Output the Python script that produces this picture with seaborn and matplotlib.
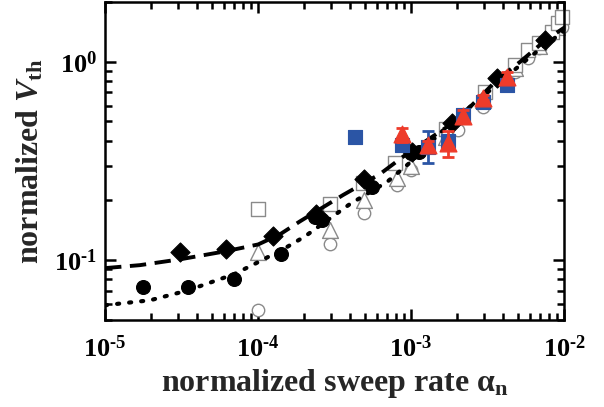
import numpy as np
import pandas as pd
import matplotlib
matplotlib.use("Agg")
import matplotlib.pyplot as plt
import matplotlib.ticker as mticker
import seaborn as sns

# filled black diamonds
dia_x = [3.09e-5, 6.18e-5, 1.25e-4, 2.39e-4, 4.93e-4, 1.02e-3, 1.85e-3, 3.65e-3, 7.52e-3]
dia_y = [0.110, 0.114, 0.132, 0.171, 0.256, 0.351, 0.492, 0.830, 1.29]

# filled black circles
dot_x = [1.77e-5, 3.49e-5, 6.97e-5, 1.41e-4, 2.35e-4, 2.6e-4, 5.56e-4, 1.0e-3, 1.12e-3]
dot_y = [0.073, 0.073, 0.080, 0.107, 0.165, 0.160, 0.234, 0.345, 0.350]

# open squares
osq_x = [1.0e-4, 2.96e-4, 4.86e-4, 7.8e-4, 1.7e-3, 3.05e-3, 4.78e-3, 5.8e-3, 6.8e-3, 8.3e-3, 9.1e-3, 9.7e-3]
osq_y = [0.181, 0.192, 0.245, 0.310, 0.460, 0.700, 0.966, 1.15, 1.25, 1.42, 1.57, 1.69]

# open triangles
otr_x = [1.0e-4, 2.96e-4, 4.9e-4, 8.1e-4, 1.0e-3, 1.7e-3, 2.96e-3, 4.8e-3, 6.8e-3, 9.0e-3]
otr_y = [0.110, 0.142, 0.201, 0.260, 0.300, 0.420, 0.640, 0.930, 1.20, 1.50]

# open circles
oci_x = [1.0e-4, 2.96e-4, 4.9e-4, 8.1e-4, 1.0e-3, 2.03e-3, 2.96e-3, 4.78e-3, 5.8e-3, 6.8e-3, 8.1e-3, 9.7e-3]
oci_y = [0.056, 0.121, 0.173, 0.240, 0.285, 0.453, 0.593, 0.890, 1.05, 1.18, 1.35, 1.50]

# blue squares with error bars
blu_x = [4.31e-4, 8.7e-4, 1.29e-3, 1.75e-3, 2.19e-3, 2.96e-3, 4.24e-3]
blu_y = [0.418, 0.380, 0.372, 0.400, 0.540, 0.630, 0.765]
blu_lo = [0.012, 0.02, 0.062, 0.02, 0.03, 0.02, 0.02]
blu_hi = [0.012, 0.02, 0.078, 0.02, 0.03, 0.02, 0.02]

# red triangles with error bars
red_x = [8.73e-4, 1.29e-3, 1.75e-3, 2.19e-3, 2.96e-3, 4.24e-3]
red_y = [0.430, 0.380, 0.390, 0.530, 0.660, 0.840]
red_lo = [0.035, 0.02, 0.06, 0.04, 0.02, 0.05]
red_hi = [0.035, 0.02, 0.06, 0.04, 0.02, 0.05]

# fit curves
dash_x = [1e-5, 1.69e-5, 3.09e-5, 6.18e-5, 1.0e-4, 1.39e-4, 1.88e-4, 3.59e-4, 6.27e-4,
          9.55e-4, 1.72e-3, 2.51e-3, 3.65e-3, 5.16e-3, 7.52e-3, 1.02e-2]
dash_y = [0.0912, 0.0944, 0.101, 0.111, 0.120, 0.135, 0.157, 0.213, 0.272,
          0.347, 0.470, 0.607, 0.811, 1.0, 1.28, 1.50]
dotl_x = [1e-5, 1.97e-5, 3.49e-5, 6.97e-5, 1.0e-4, 1.5e-4, 2.03e-4, 3.99e-4, 6.97e-4,
          1.03e-3, 1.55e-3, 2.43e-3, 3.82e-3, 6.0e-3, 1.02e-2]
dotl_y = [0.0593, 0.0628, 0.0705, 0.085, 0.0977, 0.115, 0.132, 0.192, 0.248,
          0.320, 0.438, 0.593, 0.792, 1.06, 1.45]

xticks = [1e-5, 1e-4, 1e-3, 1e-2]
xtick_labels = ["$\\mathbf{10^{\u20105}}$", "$\\mathbf{10^{\u20104}}$",
                "$\\mathbf{10^{\u20103}}$", "$\\mathbf{10^{\u20102}}$"]
yticks = [1e-1, 1e0]
ytick_labels = ["$\\mathbf{10^{\u20101}}$", "$\\mathbf{10^{0}}$"]

sns.set_style("ticks")
plt.rcParams["font.family"] = ["Liberation Serif", "DejaVu Serif"]
plt.rcParams["font.weight"] = "bold"
plt.rcParams["mathtext.fontset"] = "custom"
plt.rcParams["mathtext.rm"] = "Liberation Serif"
plt.rcParams["mathtext.it"] = "Liberation Serif:bold:italic"
plt.rcParams["mathtext.bf"] = "Liberation Serif:bold"

fig = plt.figure(figsize=(6.04, 4.07), dpi=100)
ax = fig.add_axes([0.174, 0.214, 0.76, 0.781])
ax.set_xscale("log")
ax.set_yscale("log")

gray = "#8a8a8a"
blue = "#2b55a5"
red = "#ee3b2a"

sns.lineplot(x=dash_x, y=dash_y, ax=ax, color="black", lw=2.8, sort=False,
             estimator=None, zorder=3)
ax.lines[-1].set_dashes([4.2, 2.2])
sns.lineplot(x=dotl_x, y=dotl_y, ax=ax, color="black", lw=3.0, sort=False,
             estimator=None, zorder=3)
ax.lines[-1].set_dashes([0.5, 2.4])
ax.lines[-1].set_dash_capstyle("round")

sns.scatterplot(x=oci_x, y=oci_y, ax=ax, marker="o", s=80, facecolor="white",
                edgecolor=gray, linewidth=1.0, zorder=2, clip_on=False)
sns.scatterplot(x=otr_x, y=otr_y, ax=ax, marker="^", s=130, facecolor="white",
                edgecolor=gray, linewidth=1.0, zorder=2, clip_on=False)
sns.scatterplot(x=osq_x, y=osq_y, ax=ax, marker="s", s=105, facecolor="white",
                edgecolor=gray, linewidth=1.0, zorder=2, clip_on=False)

sns.scatterplot(x=dot_x, y=dot_y, ax=ax, marker="o", s=100, color="black",
                edgecolor="black", zorder=4)
sns.scatterplot(x=dia_x, y=dia_y, ax=ax, marker="D", s=95, color="black",
                edgecolor="black", zorder=4)

ax.errorbar(blu_x, blu_y, yerr=[blu_lo, blu_hi], fmt="none", ecolor=blue,
            elinewidth=2, capsize=4, capthick=2, zorder=5)
sns.scatterplot(x=blu_x, y=blu_y, ax=ax, marker="s", s=105, color=blue,
                edgecolor=blue, zorder=5)
ax.errorbar(red_x, red_y, yerr=[red_lo, red_hi], fmt="none", ecolor=red,
            elinewidth=2, capsize=4, capthick=2, zorder=6)
sns.scatterplot(x=red_x, y=red_y, ax=ax, marker="^", s=145, color=red,
                edgecolor=red, zorder=6)

ax.set_xlim(1e-5, 1e-2)
ax.set_ylim(0.05, 2.0)
ax.xaxis.set_major_locator(mticker.FixedLocator(xticks))
ax.xaxis.set_major_formatter(mticker.FixedFormatter(xtick_labels))
ax.yaxis.set_major_locator(mticker.FixedLocator(yticks))
ax.yaxis.set_major_formatter(mticker.FixedFormatter(ytick_labels))
ax.xaxis.set_minor_locator(mticker.LogLocator(base=10, subs=np.arange(2, 10)))
ax.yaxis.set_minor_locator(mticker.LogLocator(base=10, subs=np.arange(2, 10)))
ax.xaxis.set_minor_formatter(mticker.NullFormatter())
ax.yaxis.set_minor_formatter(mticker.NullFormatter())

for side in ax.spines.values():
    side.set_linewidth(1.8)
    side.set_color("black")
ax.tick_params(which="both", direction="in", top=True, right=True, width=1.8,
               colors="black", labelsize=19)
ax.tick_params(axis="x", pad=11)
ax.tick_params(axis="y", pad=6)
ax.tick_params(which="major", length=8)
ax.tick_params(which="minor", length=5)

ax.set_xlabel(r"normalized sweep rate $\mathrm{\alpha}_{\mathrm{n}}$", fontsize=23,
              fontweight="bold", labelpad=4)
ax.set_ylabel(r"normalized $V_{\mathbf{th}}$", fontsize=23, fontweight="bold",
              labelpad=6)

fig.savefig("out.png", dpi=100)
